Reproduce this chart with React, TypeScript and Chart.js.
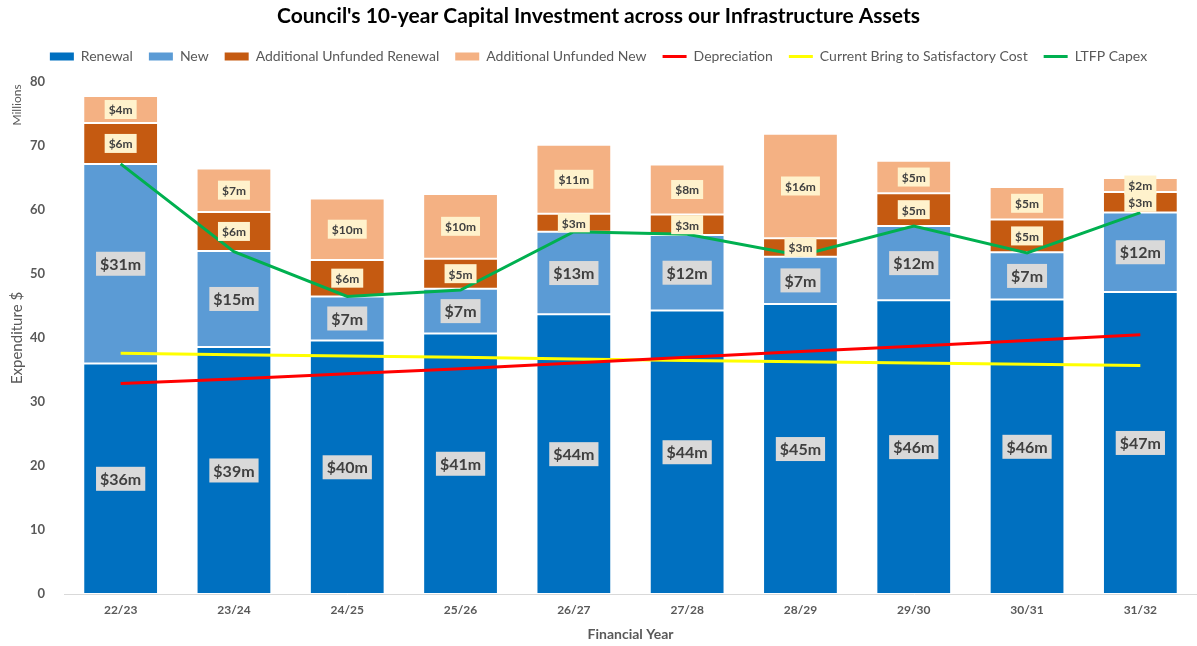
import React, { useEffect, useRef } from 'react';
import { Chart, registerables } from 'chart.js';

Chart.register(...registerables);

const categories = ['22/23', '23/24', '24/25', '25/26', '26/27', '27/28', '28/29', '29/30', '30/31', '31/32'];
const renewal = [36.0, 38.6, 39.6, 40.7, 43.7, 44.3, 45.3, 45.9, 46.0, 47.2];
const newAssets = [31.2, 15.0, 6.9, 7.0, 12.9, 11.8, 7.4, 11.6, 7.4, 12.4];
const unfundedRenewal = [6.4, 6.1, 5.7, 4.7, 2.8, 3.2, 2.9, 5.1, 5.1, 3.2];
const unfundedNew = [4.2, 6.8, 9.6, 10.1, 10.8, 7.8, 16.3, 5.1, 5.1, 2.2];
const depreciation = [32.9, 33.6, 34.4, 35.2, 36.1, 37.0, 37.9, 38.7, 39.6, 40.5];
const bringToSatisfactory = [37.6, 37.4, 37.2, 37.0, 36.7, 36.5, 36.3, 36.1, 35.9, 35.7];
const ltfpCapex = [67.2, 53.5, 46.5, 47.5, 56.6, 56.2, 52.9, 57.5, 53.3, 59.6];

const FONT = "Lato, 'Open Sans', sans-serif";
const GREY = '#595959';

const segLabelPlugin = {
  id: 'segLabels',
  afterDatasetsDraw(chart: any) {
    const ctx = chart.ctx;
    for (let d = 0; d < 4; d++) {
      const meta = chart.getDatasetMeta(d);
      const big = d < 2;
      ctx.save();
      ctx.font = `bold ${big ? 16 : 12}px ${FONT}`;
      ctx.textAlign = 'center';
      ctx.textBaseline = 'middle';
      meta.data.forEach((el: any, i: number) => {
        const v = chart.data.datasets[d].data[i];
        const { x, y, base } = el.getProps(['x', 'y', 'base'], true);
        const cy = (y + base) / 2;
        const text = `$${Math.round(v)}m`;
        const w = ctx.measureText(text).width + 8;
        const h = big ? 24 : 19;
        ctx.fillStyle = big ? '#d9d9d9' : '#fff2cc';
        ctx.fillRect(x - w / 2, cy - h / 2, w, h);
        ctx.fillStyle = '#404040';
        ctx.fillText(text, x, cy + 1);
      });
      ctx.restore();
    }
  },
};

const millionsPlugin = {
  id: 'millions',
  afterDraw(chart: any) {
    const ctx = chart.ctx;
    ctx.save();
    ctx.translate(17, 105);
    ctx.rotate(-Math.PI / 2);
    ctx.font = `12px ${FONT}`;
    ctx.fillStyle = GREY;
    ctx.textAlign = 'center';
    ctx.textBaseline = 'middle';
    ctx.fillText('Millions', 0, 0);
    ctx.restore();
  },
};

const legendSpacePlugin = {
  id: 'legendSpace',
  beforeLayout(chart: any) {
    const lg = chart.legend;
    if (lg && !lg._patched) {
      const orig = lg.fit;
      lg.fit = function () {
        orig.call(this);
        this.height += 8.4;
      };
      lg._patched = true;
    }
  },
};

export default function App() {
  const ref = useRef<HTMLCanvasElement | null>(null);
  useEffect(() => {
    if (!ref.current) return;
    const barBase = {
      type: 'bar' as const,
      stack: 'bars',
      order: 1,
      borderWidth: 1,
      borderColor: 'rgba(255,255,255,0.15)',
      borderSkipped: false,
    };
    const lineBase = { type: 'line' as const, order: 0, borderWidth: 3, pointRadius: 0, fill: false, tension: 0 };
    const chart = new Chart(ref.current, {
      type: 'bar',
      data: {
        labels: categories,
        datasets: [
          { ...barBase, label: 'Renewal', data: renewal, backgroundColor: '#0070C0' },
          { ...barBase, label: 'New', data: newAssets, backgroundColor: '#5B9BD5' },
          { ...barBase, label: 'Additional Unfunded Renewal', data: unfundedRenewal, backgroundColor: '#C55A11' },
          { ...barBase, label: 'Additional Unfunded New', data: unfundedNew, backgroundColor: '#F4B183' },
          { ...lineBase, label: 'Depreciation', data: depreciation, borderColor: '#FF0000', backgroundColor: '#FF0000', stack: 'l1' },
          { ...lineBase, label: 'Current Bring to Satisfactory Cost', data: bringToSatisfactory, borderColor: '#FFFF00', backgroundColor: '#FFFF00', stack: 'l2' },
          { ...lineBase, label: 'LTFP Capex', data: ltfpCapex, borderColor: '#00B050', backgroundColor: '#00B050', stack: 'l3' },
        ] as any,
      },
      options: {
        animation: false,
        responsive: true,
        maintainAspectRatio: false,
        datasets: { bar: { barPercentage: 0.66, categoryPercentage: 1 } },
        layout: { padding: { left: 0, right: 0, top: 0, bottom: 0 } },
        plugins: {
          tooltip: { enabled: false },
          title: {
            display: true,
            text: "Council's 10-year Capital Investment across our Infrastructure Assets",
            color: '#000',
            font: { family: FONT, size: 21, weight: 'bold' },
            padding: { top: 4, bottom: 4.4 },
          },
          legend: {
            display: true,
            position: 'top',
            labels: {
              usePointStyle: true,
              pointStyleWidth: 24,
              boxHeight: 8,
              padding: 16,
              color: GREY,
              font: { family: FONT, size: 14 },
              generateLabels(chart: any) {
                return chart.data.datasets.map((ds: any, i: number) => {
                  const isLine = ds.type === 'line';
                  return {
                    text: ds.label,
                    datasetIndex: i,
                    fillStyle: isLine ? ds.borderColor : ds.backgroundColor,
                    strokeStyle: isLine ? ds.borderColor : ds.backgroundColor,
                    lineWidth: isLine ? 3 : 0,
                    pointStyle: isLine ? 'line' : 'rect',
                    hidden: false,
                    fontColor: GREY,
                  };
                });
              },
            },
          },
        },
        scales: {
          x: {
            stacked: true,
            grid: { display: false, drawTicks: false },
            border: { display: true, color: '#d9d9d9', width: 1 },
            ticks: { color: GREY, font: { family: FONT, size: 12, weight: 'bold' }, padding: 9 },
            title: {
              display: true,
              text: 'Financial Year',
              color: GREY,
              font: { family: FONT, size: 14, weight: 'bold' },
              padding: { top: 4, bottom: 3.5 },
            },
            afterFit(scale: any) {
              scale.height = 52;
            },
          },
          y: {
            stacked: true,
            min: 0,
            max: 80,
            grid: { display: false, drawTicks: false },
            border: { display: false },
            ticks: { stepSize: 10, color: GREY, font: { family: FONT, size: 13, weight: 'bold' }, padding: 19 },
            title: {
              display: true,
              text: 'Expenditure $',
              color: GREY,
              font: { family: FONT, size: 15 },
              padding: { top: 8, bottom: 0 },
            },
            afterFit(scale: any) {
              scale.width = 64;
            },
          },
        },
      } as any,
      plugins: [segLabelPlugin, millionsPlugin, legendSpacePlugin],
    });
    return () => chart.destroy();
  }, []);

  return (
    <div style={{ position: 'fixed', left: 0, top: 0, width: 1197, height: 646, background: '#fff' }}>
      <canvas ref={ref} />
    </div>
  );
}
